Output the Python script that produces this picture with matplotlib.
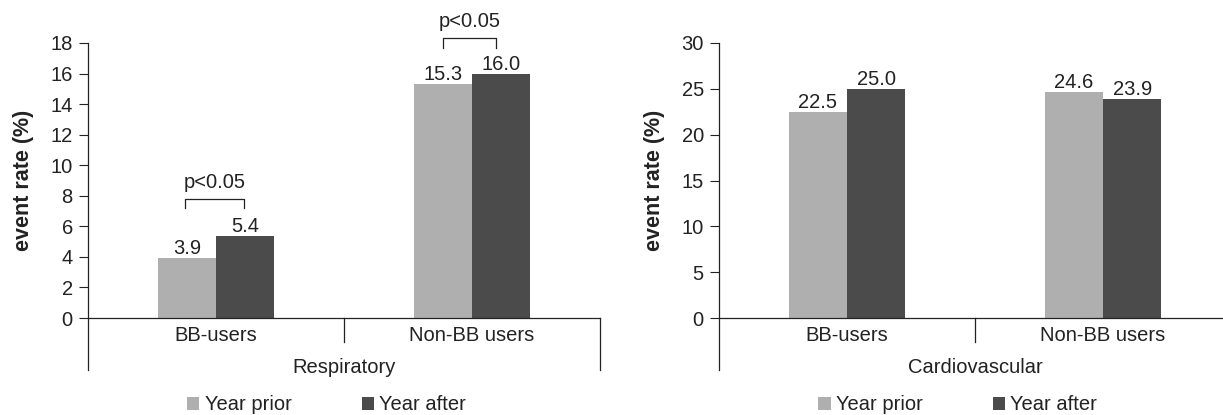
import matplotlib
matplotlib.use("Agg")
import matplotlib.pyplot as plt

plt.rcParams['font.family'] = ['Liberation Sans', 'DejaVu Sans']
plt.rcParams['font.size'] = 14.5

# data
groups = ['BB-users', 'Non-BB users']
series = ['Year prior', 'Year after']
resp_prior = [3.9, 15.3]
resp_after = [5.4, 16.0]
cardio_prior = [22.5, 24.6]
cardio_after = [25.0, 23.9]
panel_titles = ['Respiratory', 'Cardiovascular']
resp_ticks = list(range(0, 19, 2))
cardio_ticks = list(range(0, 31, 5))

light = '#afafaf'
dark = '#4b4b4b'
txt = '#222222'
w = 0.228

fig = plt.figure(figsize=(12.23, 4.15), dpi=100)
ax1 = fig.add_axes([0.072, 0.2337, 0.4186, 0.6627])
ax2 = fig.add_axes([0.588, 0.2337, 0.4186, 0.6627])


def draw_panel(ax, prior, after, ticks, title):
    x = list(range(len(groups)))
    b1 = ax.bar([i - w / 2 for i in x], prior, w, color=light, label=series[0])
    b2 = ax.bar([i + w / 2 for i in x], after, w, color=dark, label=series[1])
    for bars, vals in ((b1, prior), (b2, after)):
        for b, v in zip(bars, vals):
            ax.annotate(f'{v:.1f}', (b.get_x() + b.get_width() / 2, v),
                        xytext=(0, 0), textcoords='offset points',
                        ha='center', va='bottom', color=txt)
    ax.set_xlim(-0.5, 1.5)
    ax.set_ylim(0, ticks[-1])
    ax.set_yticks(ticks)
    for s in ax.spines.values():
        s.set_visible(False)
    ax.tick_params(axis='y', direction='out', length=6.5, width=0.8, pad=4.5,
                   colors=txt)
    ax.set_xticks([])
    # axis lines in the multi-level category style
    kw = dict(transform=ax.transAxes, clip_on=False, color=txt, lw=0.9)
    ax.plot([0, 0], [1, -0.19], **kw)
    ax.plot([0, 1], [0, 0], **kw)
    ax.plot([0.5, 0.5], [0, -0.087], **kw)
    ax.plot([1, 1], [0, -0.19], **kw)
    for i, g in enumerate(groups):
        ax.text((i + 0.5) / 2, -0.062, g, transform=ax.transAxes,
                ha='center', va='center', color=txt)
    ax.text(0.5, -0.18, title, transform=ax.transAxes,
            ha='center', va='center', color=txt)
    ax.set_ylabel('event rate (%)', fontweight='bold', fontsize=15.5, color=txt)
    ax.yaxis.set_label_coords(-0.105, 0.5)
    ax.legend(loc='center', bbox_to_anchor=(0.466, -0.316), ncol=2,
              frameon=False, handlelength=0.6, handleheight=0.65,
              handletextpad=0.25, columnspacing=3.5, borderpad=0,
              labelcolor=txt)


def bracket(ax, x0, x1, ytop, ybot, label, ytext):
    ax.plot([x0, x0, x1, x1], [ybot, ytop, ytop, ybot], color=txt,
            lw=0.9, clip_on=False)
    ax.text((x0 + x1) / 2, ytext, label, ha='center', va='center',
            color=txt, clip_on=False)


draw_panel(ax1, resp_prior, resp_after, resp_ticks, panel_titles[0])
draw_panel(ax2, cardio_prior, cardio_after, cardio_ticks, panel_titles[1])

bracket(ax1, -0.12, 0.108, 7.8, 7.2, 'p<0.05', 8.85)
bracket(ax1, 0.885, 1.095, 18.3, 17.65, 'p<0.05', 19.4)

fig.savefig('out.png', dpi=100)
